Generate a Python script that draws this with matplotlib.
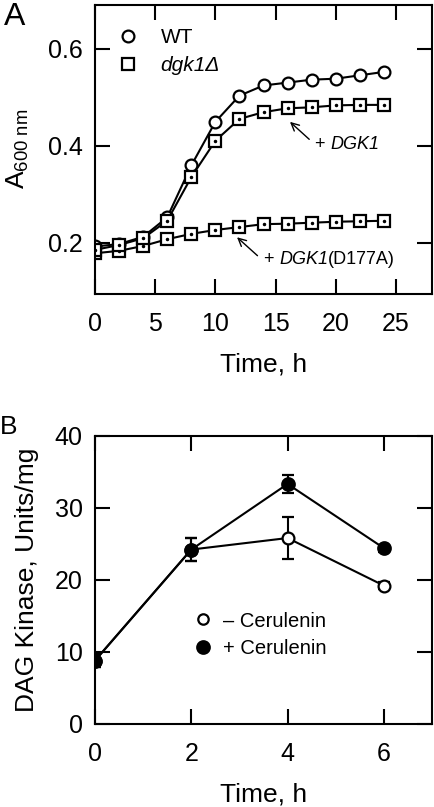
import numpy as np
import matplotlib
matplotlib.use('Agg')
import matplotlib.pyplot as plt
from matplotlib.lines import Line2D

plt.rcParams['font.family'] = ['Liberation Sans', 'DejaVu Sans']
plt.rcParams['mathtext.fontset'] = 'custom'
plt.rcParams['mathtext.rm'] = 'Liberation Sans'
plt.rcParams['mathtext.it'] = 'Liberation Sans:italic'

# Panel A: growth curves
time_a = [0, 2, 4, 6, 8, 10, 12, 14, 16, 18, 20, 22, 24]
wt = [0.192, 0.197, 0.212, 0.252, 0.359, 0.449, 0.503, 0.524, 0.530, 0.536, 0.538, 0.545, 0.552]
dgk1_plus = [0.185, 0.195, 0.209, 0.245, 0.335, 0.410, 0.455, 0.469, 0.477, 0.479, 0.483, 0.484, 0.484]
dgk1_d177a = [0.178, 0.183, 0.193, 0.207, 0.218, 0.226, 0.232, 0.238, 0.239, 0.241, 0.243, 0.244, 0.245]

# Panel B: DAG kinase activity
time_b = [0, 2, 4, 6]
minus_cer = [8.8, 24.2, 25.8, 19.2]
minus_err = [0.9, 1.6, 2.9, 0.5]
plus_cer = [8.8, 24.2, 33.3, 24.4]
plus_err = [0.9, 1.6, 1.3, 0.5]

TICK = 18
LABEL = 19
LW = 1.5

fig = plt.figure(figsize=(4.35, 8.07), dpi=100)
axA = fig.add_axes([0.2184, 0.6363, 0.7747, 0.3575])
axB = fig.add_axes([0.2184, 0.1029, 0.7747, 0.3572])


def style(ax):
    for s in ax.spines.values():
        s.set_linewidth(LW)
    ax.tick_params(direction='in', top=True, right=True, length=11, width=LW,
                   labelsize=TICK, pad=9)
    ax.tick_params(axis='x', pad=13)


def mixed_label(ax, x, y, parts, size=13):
    # parts: list of (text, italic) drawn one after another on one baseline
    t = ax.text(x, y, parts[0][0], fontsize=size, va='baseline', ha='left',
                fontstyle='italic' if parts[0][1] else 'normal')
    for s, it in parts[1:]:
        t = ax.annotate(s, xy=(1, 0), xycoords=t, va='bottom', ha='left', fontsize=size,
                        fontstyle='italic' if it else 'normal')
    return t


arrow = dict(arrowstyle='->', lw=1.0, color='k', shrinkA=0, shrinkB=0,
             mutation_scale=14)

# ---- A ----
sq = dict(marker='s', ms=8.5, mfc='white', mec='k', mew=1.6, color='k', lw=LW)
axA.plot(time_a, wt, marker='o', ms=8.5, mfc='white', mec='k', mew=1.6, color='k', lw=LW)
axA.plot(time_a, dgk1_d177a, **sq)
axA.plot(time_a, dgk1_d177a, 'k.', ms=3)
axA.plot(time_a, dgk1_plus, **sq)
axA.plot(time_a, dgk1_plus, 'k.', ms=3)

axA.set_xlim(0, 28)
axA.set_ylim(0.095, 0.69)
axA.set_xticks([0, 5, 10, 15, 20, 25])
axA.set_yticks([0.2, 0.4, 0.6])
style(axA)
axA.set_xlabel('Time, h', fontsize=LABEL, labelpad=12)
axA.set_ylabel(r'A$_{\mathregular{600\ nm}}$', fontsize=LABEL)
axA.yaxis.set_label_coords(-0.19, 0.5)

hA = [Line2D([], [], ls='none', marker='o', ms=8.5, mfc='white', mec='k', mew=1.6),
      Line2D([], [], ls='none', marker='s', ms=8.5, mfc='white', mec='k', mew=1.6)]
legA = axA.legend(hA, ['WT', 'dgk1\u0394'], loc='upper left', bbox_to_anchor=(0.065, 0.92),
                  frameon=False, fontsize=15, handlelength=1.1, handletextpad=1.0,
                  borderpad=0, borderaxespad=0, labelspacing=0.45)
legA.get_texts()[1].set_fontstyle('italic')

axA.annotate('', xy=(16.2, 0.449), xytext=(17.8, 0.413), arrowprops=arrow)
mixed_label(axA, 18.3, 0.392, [('+ ', False), ('DGK1', True)])
axA.annotate('', xy=(11.8, 0.211), xytext=(13.5, 0.173), arrowprops=arrow)
mixed_label(axA, 14.0, 0.156, [('+ ', False), ('DGK1', True), ('(D177A)', False)])

# ---- B ----
axB.errorbar(time_b, minus_cer, yerr=minus_err, fmt='-o', ms=8.5, mfc='white', mec='k',
             mew=1.6, color='k', lw=LW, elinewidth=LW, capsize=4.5, capthick=LW)
axB.errorbar(time_b, plus_cer, yerr=plus_err, fmt='-o', ms=9, mfc='k', mec='k',
             mew=1.6, color='k', lw=LW, elinewidth=LW, capsize=4.5, capthick=LW)

axB.set_xlim(0, 7)
axB.set_ylim(0, 40)
axB.set_xticks([0, 2, 4, 6])
axB.set_yticks([0, 10, 20, 30, 40])
style(axB)
axB.set_xlabel('Time, h', fontsize=LABEL, labelpad=12)
axB.set_ylabel('DAG Kinase, Units/mg', fontsize=LABEL)
axB.yaxis.set_label_coords(-0.165, 0.5)

hB = [Line2D([], [], ls='none', marker='o', ms=7.5, mfc='white', mec='k', mew=1.6),
      Line2D([], [], ls='none', marker='o', ms=9, mfc='k', mec='k', mew=1.6)]
axB.legend(hB, ['\u2013 Cerulenin', '+ Cerulenin'], loc='upper left',
           bbox_to_anchor=(0.29, 0.39), frameon=False, fontsize=14.5,
           handlelength=1.0, handletextpad=0.5, borderpad=0, borderaxespad=0,
           labelspacing=0.4)

fig.text(4 / 435, 1 - 2 / 807, 'A', fontsize=23, va='top', ha='left')
fig.text(0 / 435, 1 - 415 / 807, 'B', fontsize=19, va='top', ha='left')

fig.savefig('out.png', dpi=100)
